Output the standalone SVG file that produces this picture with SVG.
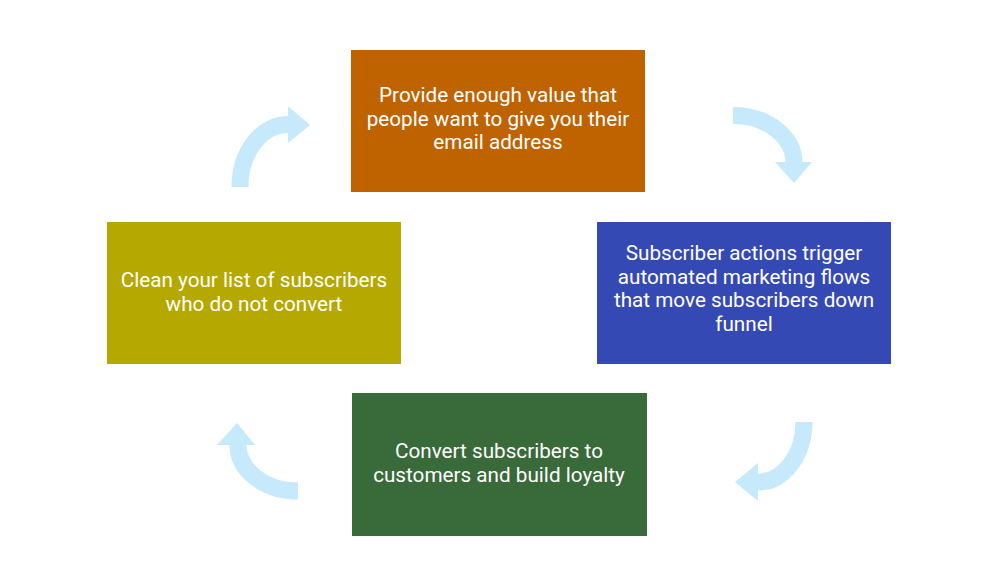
<svg xmlns="http://www.w3.org/2000/svg" width="1000" height="587" viewBox="0 0 1000 587">
<defs>
<style>
.lbl{font-family:Roboto,"Open Sans","Liberation Sans",sans-serif;font-size:20.7px;fill:#ffffff;text-anchor:middle}
.shaft{fill:none;stroke:#c6e9fc;stroke-width:17}
.head{fill:#c6e9fc}
</style>
</defs>
<rect x="0" y="0" width="1000" height="587" fill="#ffffff"/>
<g id="connectors">
<g id="arrow-top-left">
<path class="shaft" d="M240,187 A48,62 0 0 1 289,124.5"/>
<polygon class="head" points="288,106 310,125 288,143"/>
</g>
<g id="arrow-top-right">
<path class="shaft" d="M733,115.5 A61,47 0 0 1 794,163"/>
<polygon class="head" points="775,162 812,162 794,183"/>
</g>
<g id="arrow-bottom-right">
<path class="shaft" d="M804,422 A46,60 0 0 1 757,482"/>
<polygon class="head" points="758,463 758,501 735,482"/>
</g>
<g id="arrow-bottom-left">
<path class="shaft" d="M298,491 A60,46 0 0 1 238,444"/>
<polygon class="head" points="217,445 255,445 237,423"/>
</g>
</g>
<g id="node-provide">
<rect x="351" y="50" width="294" height="142" fill="#bf6200"/>
<text class="lbl" x="498" y="102">Provide enough value that</text>
<text class="lbl" x="498" y="125.5">people want to give you their</text>
<text class="lbl" x="498" y="149">email address</text>
</g>
<g id="node-subscriber">
<rect x="597" y="222" width="294" height="142" fill="#3549b5"/>
<text class="lbl" x="744" y="260">Subscriber actions trigger</text>
<text class="lbl" x="744" y="283.5">automated marketing flows</text>
<text class="lbl" x="744" y="307">that move subscribers down</text>
<text class="lbl" x="744" y="330.5">funnel</text>
</g>
<g id="node-convert">
<rect x="352" y="393" width="295" height="143" fill="#386a3a"/>
<text class="lbl" x="499" y="458">Convert subscribers to</text>
<text class="lbl" x="499" y="481.5">customers and build loyalty</text>
</g>
<g id="node-clean">
<rect x="107" y="222" width="294" height="142" fill="#b5a800"/>
<text class="lbl" x="254" y="287">Clean your list of subscribers</text>
<text class="lbl" x="254" y="310.5">who do not convert</text>
</g>
</svg>
